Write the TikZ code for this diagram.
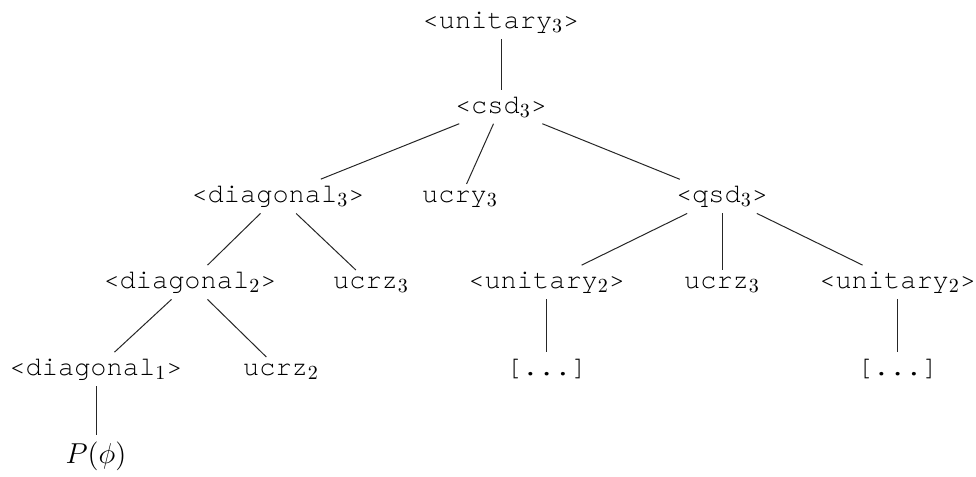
\documentclass[tikz,border=0pt]{standalone}
\usepackage{fontspec}
\setmonofont{texgyrecursor-regular.otf}
\DeclareMathSizes{13.5}{13.5}{10}{7}
\begin{document}
\begin{tikzpicture}[x=0.5pt,y=-0.5pt,
  tn/.style={font=\ttfamily\fontsize{13.5}{16}\selectfont, inner sep=3pt, anchor=base},
  mn/.style={font=\fontsize{13.5}{16}\selectfont, inner sep=3pt, anchor=base},
  edge/.style={line width=0.5pt, draw=black!85}]
\useasboundingbox (0,0) rectangle (976,477);
\node[tn] (u3) at (501,28) {<unitary$_3$>};
\node[tn] (csd) at (501,113) {<csd$_3$>};
\node[tn] (d3) at (278,202) {<diagonal$_3$>};
\node[tn] (ucry) at (460,202) {ucry$_3$};
\node[tn] (qsd) at (722,202) {<qsd$_3$>};
\node[tn] (d2) at (190,288) {<diagonal$_2$>};
\node[tn] (ucrza) at (371,288) {ucrz$_3$};
\node[tn] (u2a) at (546.7,288) {<unitary$_2$>};
\node[tn] (ucrzb) at (722,288) {ucrz$_3$};
\node[tn] (u2b) at (897.7,288) {<unitary$_2$>};
\node[tn] (d1) at (96,375) {<diagonal$_1$>};
\node[tn] (ucrz2) at (281,375) {ucrz$_2$};
\node[tn] (dotsa) at (546.7,375) {[...]};
\node[tn] (dotsb) at (897.7,375) {[...]};
\node[mn] (p) at (96,463) {$P(\phi)$};
\draw[edge] (u3) -- (csd);
\draw[edge] (csd) -- (d3);
\draw[edge] (csd) -- (ucry);
\draw[edge] (csd) -- (qsd);
\draw[edge] (d3) -- (d2);
\draw[edge] (d3) -- (ucrza);
\draw[edge] (qsd) -- (u2a);
\draw[edge] (qsd) -- (ucrzb);
\draw[edge] (qsd) -- (u2b);
\draw[edge] (d2) -- (d1);
\draw[edge] (d2) -- (ucrz2);
\draw[edge] (u2a) -- (dotsa);
\draw[edge] (u2b) -- (dotsb);
\draw[edge] (d1) -- (p);
\end{tikzpicture}
\end{document}
